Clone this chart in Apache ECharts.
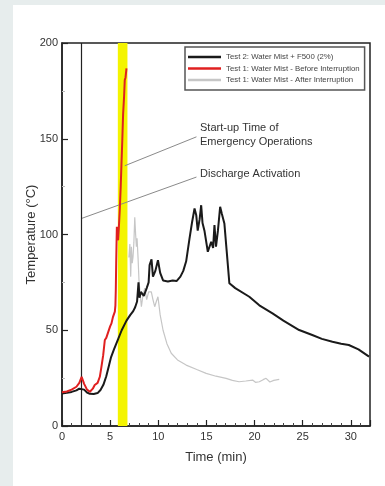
<!DOCTYPE html>
<html>
<head>
<meta charset="utf-8">
<script src="https://cdn.jsdelivr.net/npm/echarts@6/dist/echarts.min.js"></script>
<style>
  html, body { margin: 0; padding: 0; background: #e7eded; width: 385px; height: 486px; overflow: hidden; }
  #panel { position: absolute; left: 13px; top: 5px; width: 372px; height: 481px; background: #ffffff; }
</style>
</head>
<body>
<div id="panel"></div>
<script>
// Test 2: water mist with F500 additive (time in min, temperature in °C)
const test2Time = [0,0.5,1,1.5,1.8,2.0,2.3,2.6,2.9,3.3,3.7,4.0,4.3,4.6,4.9,5.1,5.4,5.8,6.2,6.7,7.1,7.4,7.6,7.8,7.95,8.05,8.2,8.5,8.8,9.0,9.1,9.3,9.45,9.7,9.97,10.2,10.5,11.0,11.5,11.9,12.3,12.6,12.9,13.25,13.5,13.77,13.95,14.1,14.3,14.46,14.6,14.8,15.15,15.3,15.5,15.7,15.84,16.0,16.2,16.43,16.6,16.87,17.1,17.39,18.0,19.46,20.5,21.87,23,24.64,26,27,28.1,29,29.8,30.8,31.9];
const test2Temp = [17.0,17.3,17.8,18.6,19.5,20.5,19.0,17.5,16.8,16.7,17.2,18.8,21.5,26,32,36,40,45,50,55,58,60,62,65,75,67,70,68,72,75,84,87,78,81,86.6,80,76,75.5,76,75.7,78,81,86,98,106,113.6,110,102,108,115.3,106,102,91,92,96.2,93,104.9,93.6,102,114.5,111,105.8,92,74.5,72,67.5,63,58.8,55,50.1,47.5,45.5,44,43,42.3,40,36.2];

// Test 1: water mist, before interruption
const test1BeforeTime = [0,0.5,1.0,1.5,1.8,2.04,2.3,2.6,2.9,3.2,3.4,3.7,3.93,4.1,4.28,4.45,4.6,4.8,5.0,5.14,5.3,5.49,5.55,5.59,5.63,5.66,5.7,5.75,5.83,5.9,6.0,6.1,6.18,6.27,6.35,6.45,6.52,6.6,6.7];
const test1BeforeTemp = [17.6,18,19,20.5,22.5,25.7,22,19,17.9,19.5,21.4,22.5,25.7,31,37,44.9,46,49,52,53.6,57,59.7,63,71,85,93.6,104,100,97,103,112.7,125,137,150,163,172,180.6,182,186.7];

// Test 1: water mist, after interruption
const test1AfterTime = [6.95,7.05,7.14,7.21,7.3,7.38,7.47,7.56,7.65,7.73,7.8,7.9,8.0,8.1,8.25,8.4,8.6,8.8,9.0,9.28,9.45,9.63,9.8,9.97,10.2,10.5,10.9,11.35,12.0,12.9,14.0,14.98,16.0,17.05,17.7,18.4,19.1,19.8,20.1,20.5,20.9,21.2,21.6,22.0,22.57];
const test1AfterTemp = [88,95,78,93.6,85,88.4,96,109,100,93.6,98,88,76,70,62.3,68,72,66,70,70,66,62.3,65,67.5,58,50,43,38,34.5,31.8,29.5,27.5,26,24.9,23.8,23.1,23.5,24,22.8,23.1,24.2,24.9,23,23.8,24.3];

// Event markers
const dischargeTime = 2;                 // discharge activation (min)
const startupWindow = [5.8, 6.8];        // start-up time of emergency operations (min)

// Callout leader lines: [time, temperature] pairs
const startupLeader = [[6.52, 135.9], [13.97, 151]];
const dischargeLeader = [[2.04, 108.4], [13.97, 130]];

const xTicks = { min: 0, max: 32, interval: 5 };
const yTicks = { min: 0, max: 200, interval: 50 };

const seriesNames = [
  'Test 2: Water Mist + F500 (2%)',
  'Test 1: Water Mist - Before Interruption',
  'Test 1: Water Mist - After Interruption'
];

const zip = (a, b) => a.map((v, i) => [v, b[i]]);

const chart = echarts.init(document.getElementById('panel'), null, { renderer: 'canvas' });

const axisFont = { fontFamily: 'Liberation Sans, Arial, sans-serif', color: '#333' };

chart.setOption({
  animation: false,
  backgroundColor: '#ffffff',
  grid: {
    left: 49, top: 38, right: 15, bottom: 60,
    containLabel: false, outerBoundsMode: 'none',
    show: true, borderColor: '#222', borderWidth: 1.5, backgroundColor: 'transparent'
  },
  legend: {
    data: seriesNames,
    orient: 'vertical',
    left: 172,
    top: 42,
    icon: 'rect',
    itemWidth: 33,
    itemHeight: 2.5,
    itemGap: 3.5,
    padding: [6, 5, 6, 3],
    borderColor: '#555',
    borderWidth: 1.5,
    backgroundColor: '#fff',
    textStyle: { fontSize: 7.8, color: '#444', fontFamily: 'Liberation Sans, Arial, sans-serif' }
  },
  xAxis: {
    type: 'value',
    min: xTicks.min, max: xTicks.max, interval: xTicks.interval,
    name: 'Time (min)', nameLocation: 'middle', nameGap: 25, nameMoveOverlap: false,
    nameTextStyle: Object.assign({ fontSize: 13 }, axisFont),
    axisLine: { show: true, lineStyle: { color: '#222', width: 1.5 } },
    axisTick: { show: true, inside: true, length: 6, lineStyle: { color: '#222', width: 1.2 } },
    minorTick: { show: true, splitNumber: 5, length: 3, lineStyle: { color: '#444', width: 1 } },
    axisLabel: Object.assign({ fontSize: 11, margin: 5, showMaxLabel: false }, axisFont),
    splitLine: { show: false }
  },
  yAxis: {
    type: 'value',
    min: yTicks.min, max: yTicks.max, interval: yTicks.interval,
    name: 'Temperature (°C)', nameLocation: 'middle', nameGap: 24, nameRotate: 90, nameMoveOverlap: false,
    nameTextStyle: Object.assign({ fontSize: 13 }, axisFont),
    axisLine: { show: true, lineStyle: { color: '#222', width: 1.5 } },
    axisTick: { show: true, inside: true, length: 6, lineStyle: { color: '#222', width: 1.2 } },
    minorTick: { show: true, splitNumber: 2, length: 3, lineStyle: { color: '#bbb', width: 1 } },
    axisLabel: Object.assign({ fontSize: 11, margin: 4 }, axisFont),
    splitLine: { show: false }
  },
  graphic: [
    { type: 'text', left: 187, top: 116, style: { text: 'Start-up Time of\nEmergency Operations', fontSize: 11, lineHeight: 14, fill: '#333', fontFamily: 'Liberation Sans, Arial, sans-serif' } },
    { type: 'text', left: 187, top: 163, style: { text: 'Discharge Activation', fontSize: 11, fill: '#333', fontFamily: 'Liberation Sans, Arial, sans-serif' } }
  ],
  series: [
    {
      name: 'events', type: 'line', data: [], silent: true, z: 1,
      markArea: { silent: true, itemStyle: { color: '#f4f400' }, data: [[{ xAxis: startupWindow[0] }, { xAxis: startupWindow[1] }]] },
      markLine: { silent: true, symbol: 'none', label: { show: false }, lineStyle: { color: '#222', width: 1.2, type: 'solid' }, data: [{ xAxis: dischargeTime }] }
    },
    {
      name: 'leader-startup', type: 'line', data: startupLeader, symbol: 'none', silent: true, z: 3,
      lineStyle: { color: '#8a8a8a', width: 1 }
    },
    {
      name: 'leader-discharge', type: 'line', data: dischargeLeader, symbol: 'none', silent: true, z: 3,
      lineStyle: { color: '#8a8a8a', width: 1 }
    },
    {
      name: seriesNames[2], type: 'line', data: zip(test1AfterTime, test1AfterTemp), symbol: 'none', z: 4,
      color: '#c6c6c6', lineStyle: { color: '#c6c6c6', width: 1.2 }
    },
    {
      name: seriesNames[0], type: 'line', data: zip(test2Time, test2Temp), symbol: 'none', z: 5,
      color: '#1a1a1a', lineStyle: { color: '#1a1a1a', width: 2 }
    },
    {
      name: seriesNames[1], type: 'line', data: zip(test1BeforeTime, test1BeforeTemp), symbol: 'none', z: 6,
      color: '#e02020', lineStyle: { color: '#e02020', width: 2 }
    }
  ]
});
</script>
</body>
</html>
